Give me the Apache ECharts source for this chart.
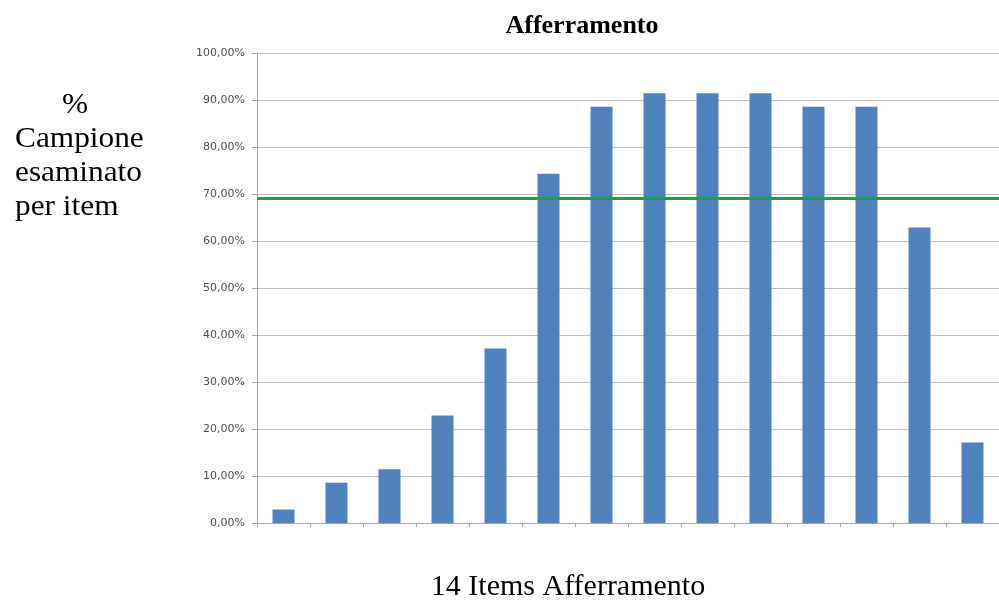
<!DOCTYPE html>
<html>
<head>
<meta charset="utf-8">
<script src="https://cdn.jsdelivr.net/npm/echarts@6/dist/echarts.min.js"></script>
<style>
  html, body { margin: 0; padding: 0; background: #ffffff; }
  #chart { width: 999px; height: 604px; }
</style>
</head>
<body>
<div id="chart"></div>
<script>
// Items of the "Afferramento" scale (14 items)
const items = ['1', '2', '3', '4', '5', '6', '7', '8', '9', '10', '11', '12', '13', '14'];
// Share of the examined sample passing each item (%)
const percentPassed = [2.86, 8.57, 11.43, 22.86, 37.14, 74.29, 88.57, 91.43, 91.43, 91.43, 88.57, 88.57, 62.86, 17.14];
// Reference threshold (%)
const threshold = [69.1];
// Value axis ticks
const yMin = 0, yMax = 100, yStep = 10;

const chart = echarts.init(document.getElementById('chart'), null, { renderer: 'canvas' });

const fmtPct = v => v.toFixed(2).replace('.', ',') + '%';
const serif = 'Liberation Serif, Times New Roman, serif';

chart.setOption({
  animation: false,
  backgroundColor: '#ffffff',
  graphic: [
    {
      type: 'text',
      x: 582,
      y: 13,
      style: {
        text: 'Afferramento',
        fontFamily: serif,
        fontWeight: 'bold',
        fontSize: 26,
        align: 'center',
        verticalAlign: 'top',
        fill: '#000000'
      }
    },
    {
      // y-axis caption: percent sign sits indented above the left-aligned lines
      type: 'text',
      x: 62,
      y: 88,
      scaleX: 1.08,
      style: {
        text: '%',
        fontFamily: serif,
        fontSize: 29,
        lineHeight: 34,
        align: 'left',
        verticalAlign: 'top',
        fill: '#000000'
      }
    },
    {
      type: 'text',
      x: 15,
      y: 122,
      scaleX: 1.08,
      style: {
        text: 'Campione\nesaminato\nper item',
        fontFamily: serif,
        fontSize: 29,
        lineHeight: 34,
        align: 'left',
        verticalAlign: 'top',
        fill: '#000000'
      }
    },
    {
      type: 'text',
      x: 568,
      y: 572,
      style: {
        text: '14 Items Afferramento',
        fontFamily: serif,
        fontSize: 30,
        align: 'center',
        verticalAlign: 'top',
        fill: '#000000'
      }
    }
  ],
  grid: {
    left: 257,
    top: 53,
    width: 756,
    bottom: 81
  },
  xAxis: {
    type: 'category',
    data: items,
    boundaryGap: true,
    axisLine: { lineStyle: { color: '#a6a6a6', width: 1 } },
    axisTick: { show: true, alignWithLabel: false, length: 4, lineStyle: { color: '#a6a6a6' } },
    axisLabel: { show: false },
    splitLine: { show: false }
  },
  yAxis: {
    type: 'value',
    min: yMin,
    max: yMax,
    interval: yStep,
    axisLine: { show: true, lineStyle: { color: '#a6a6a6', width: 1 } },
    axisTick: { show: true, length: 5, lineStyle: { color: '#a6a6a6' } },
    axisLabel: {
      formatter: fmtPct,
      fontFamily: 'DejaVu Sans, Verdana, sans-serif',
      fontSize: 11,
      color: '#4d4d4d',
      margin: 12
    },
    splitLine: { lineStyle: { color: '#bfbfbf', width: 1 } }
  },
  series: [
    {
      type: 'bar',
      data: percentPassed,
      barWidth: 22,
      itemStyle: { color: '#4f81bd' },
      markLine: {
        silent: true,
        symbol: ['none', 'none'],
        label: { show: false },
        lineStyle: { color: '#1f9e4f', width: 3, type: 'solid' },
        data: [{ yAxis: threshold[0] }]
      }
    }
  ]
});
</script>
</body>
</html>
